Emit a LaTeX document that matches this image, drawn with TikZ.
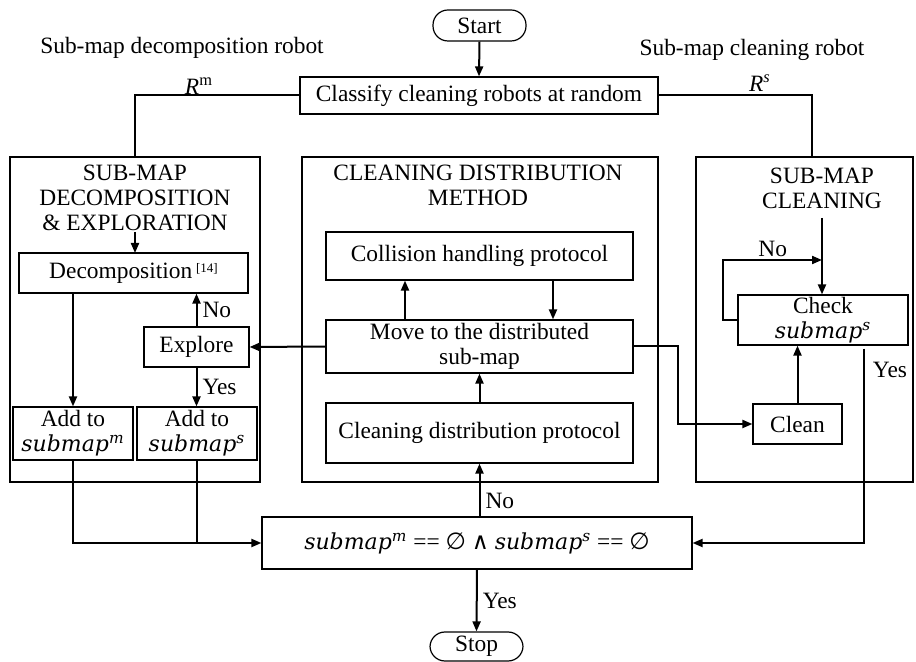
\documentclass[tikz,border=0pt]{standalone}
\usepackage{fontspec}
\setmainfont{Liberation Serif}
\newfontfamily\mathlike{DejaVu Serif}
\newfontfamily\symfont{DejaVu Sans}
\usetikzlibrary{arrows.meta}
\newcommand{\subm}[1]{{\mathlike\itshape\fontsize{11}{12.5}\selectfont submap\textsuperscript{#1}}}
\newcommand{\nul}{{\symfont ∅}}
\newcommand{\andsym}{{\symfont ∧}}
\begin{document}
\begin{tikzpicture}[x=0.5pt,y=-0.5pt,
  every node/.style={font=\fontsize{11.7}{12.5}\selectfont},
  box/.style={draw, line width=0.6pt, inner sep=0pt, align=center},
  term/.style={box, rounded corners=7.5pt},
  panel/.style={draw, line width=0.6pt, inner sep=0pt},
  title/.style={align=center, inner sep=0pt},
  conn/.style={line width=1pt},
  arr/.style={conn, -{Triangle[length=5pt,width=4pt]}},
  lbl/.style={inner sep=2.5pt}]
\useasboundingbox (0,0) rectangle (916,662);

% terminals and top-level steps
\node[term, minimum width=46.5pt, minimum height=15.5pt] (start) at (479.5,25.5) {Start};
\node[box, minimum width=179pt, minimum height=18.5pt] (classify) at (479,95.5) {Classify cleaning robots at random};
\node[term, minimum width=46.5pt, minimum height=14.5pt] (stop) at (476.5,646.5) {Stop};
\node[box, minimum width=215pt, minimum height=26pt] (cond) at (477,543)
  {\subm{m} == \nul\ \andsym\ \subm{s} == \nul};

% robot groups
\node (lrobot) at (182,48) {Sub-map decomposition robot};
\node (rrobot) at (752,50) {Sub-map cleaning robot};
\node (rm) at (199,86) {\textit{R}\textsuperscript{m}};
\node (rs) at (760,83) {\textit{R}\textsuperscript{\textit{s}}};

% panels
\node[panel, minimum width=125pt, minimum height=162.5pt] (lpanel) at (135,319.5) {};
\node[panel, minimum width=178pt, minimum height=162.5pt] (mpanel) at (480,319.5) {};
\node[panel, minimum width=108.5pt, minimum height=162.5pt] (rpanel) at (804.5,319.5) {};
\coordinate (rtop) at (812,157);

\node[title] (ltitle) at (135,198) {SUB-MAP\\DECOMPOSITION\\\&\ EXPLORATION};
\node[title] (mtitle) at (478,185.5) {CLEANING DISTRIBUTION\\METHOD};
\node[title] (rtitle) at (822,188.5) {SUB-MAP\\CLEANING};

% decomposition & exploration
\node[box, minimum width=114.5pt, minimum height=20pt] (decomp) at (133.5,273)
  {Decomposition\,{\fontsize{6.5}{7}\selectfont\raisebox{0.9ex}{[14]}}};
\node[box, minimum width=52.5pt, minimum height=20pt] (explore) at (196.5,347) {Explore};
\node[box, minimum width=60pt, minimum height=26.5pt] (addm) at (73,433.5) {Add to\\\subm{m}};
\node[box, minimum width=60pt, minimum height=26.5pt] (adds) at (197,433.5) {Add to\\\subm{s}};

% cleaning distribution
\node[box, minimum width=153.5pt, minimum height=24pt] (collision) at (479.5,256) {Collision handling protocol};
\node[box, minimum width=153.5pt, minimum height=26.5pt] (move) at (479.5,346.5) {Move to the distributed\\sub-map};
\node[box, minimum width=153.5pt, minimum height=30pt] (cdp) at (479.5,433) {Cleaning distribution protocol};

% sub-map cleaning
\node[box, minimum width=85pt, minimum height=25pt] (check) at (823,320) {Check\\\subm{s}};
\node[box, minimum width=44.5pt, minimum height=20pt] (clean) at (797.5,424) {Clean};
\coordinate (nojoin) at (822,260);

% connectors
\draw[arr] (start.south) -- (classify.north);
\draw[conn] (classify.west) -| (lpanel.north);
\draw[conn] (classify.east) -| (rtop);

\draw[arr] (135,232) -- (135,253);
\draw[arr] (addm.north |- decomp.south) -- (addm.north);
\draw[arr] (explore.north) -- node[lbl, right] {No} (explore.north |- decomp.south);
\draw[arr] (explore.south) -- node[lbl, right] {Yes} (explore.south |- adds.north);
\draw[arr] (move.west) -- (explore.east);

\draw[arr] ([xshift=-37.25pt]move.north) -- ([xshift=-37.25pt]collision.south);
\draw[arr] ([xshift=36.75pt]collision.south) -- ([xshift=36.75pt]move.north);
\draw[arr] (cdp.north) -- (move.south);
\draw[arr] (cdp.south |- cond.north) -- node[lbl, right, pos=0.3] {No} (cdp.south);
\draw[arr] (cond.south) -- node[lbl, right] {Yes} (stop.north);

\draw[arr] (move.east) -- ++(22pt,0) |- (clean.west);
\draw[arr] (clean.north) -- (clean.north |- check.south);
\draw[arr] (822,218) -- (check.north -| 822,0);
\draw[arr] (check.west) -- ++(-7pt,0) |- node[inner sep=1pt, pos=0.75, above] {No} (nojoin);
\draw[arr] ([xshift=20.5pt,yshift=-1.5pt]check.south) |- (cond.east);
\node[lbl] (yeslbl) at (890,370) {Yes};

\draw[arr] (addm.south) |- (cond.west);
\draw[conn] (adds.south) -- (adds.south |- cond.west);
\end{tikzpicture}
\end{document}
